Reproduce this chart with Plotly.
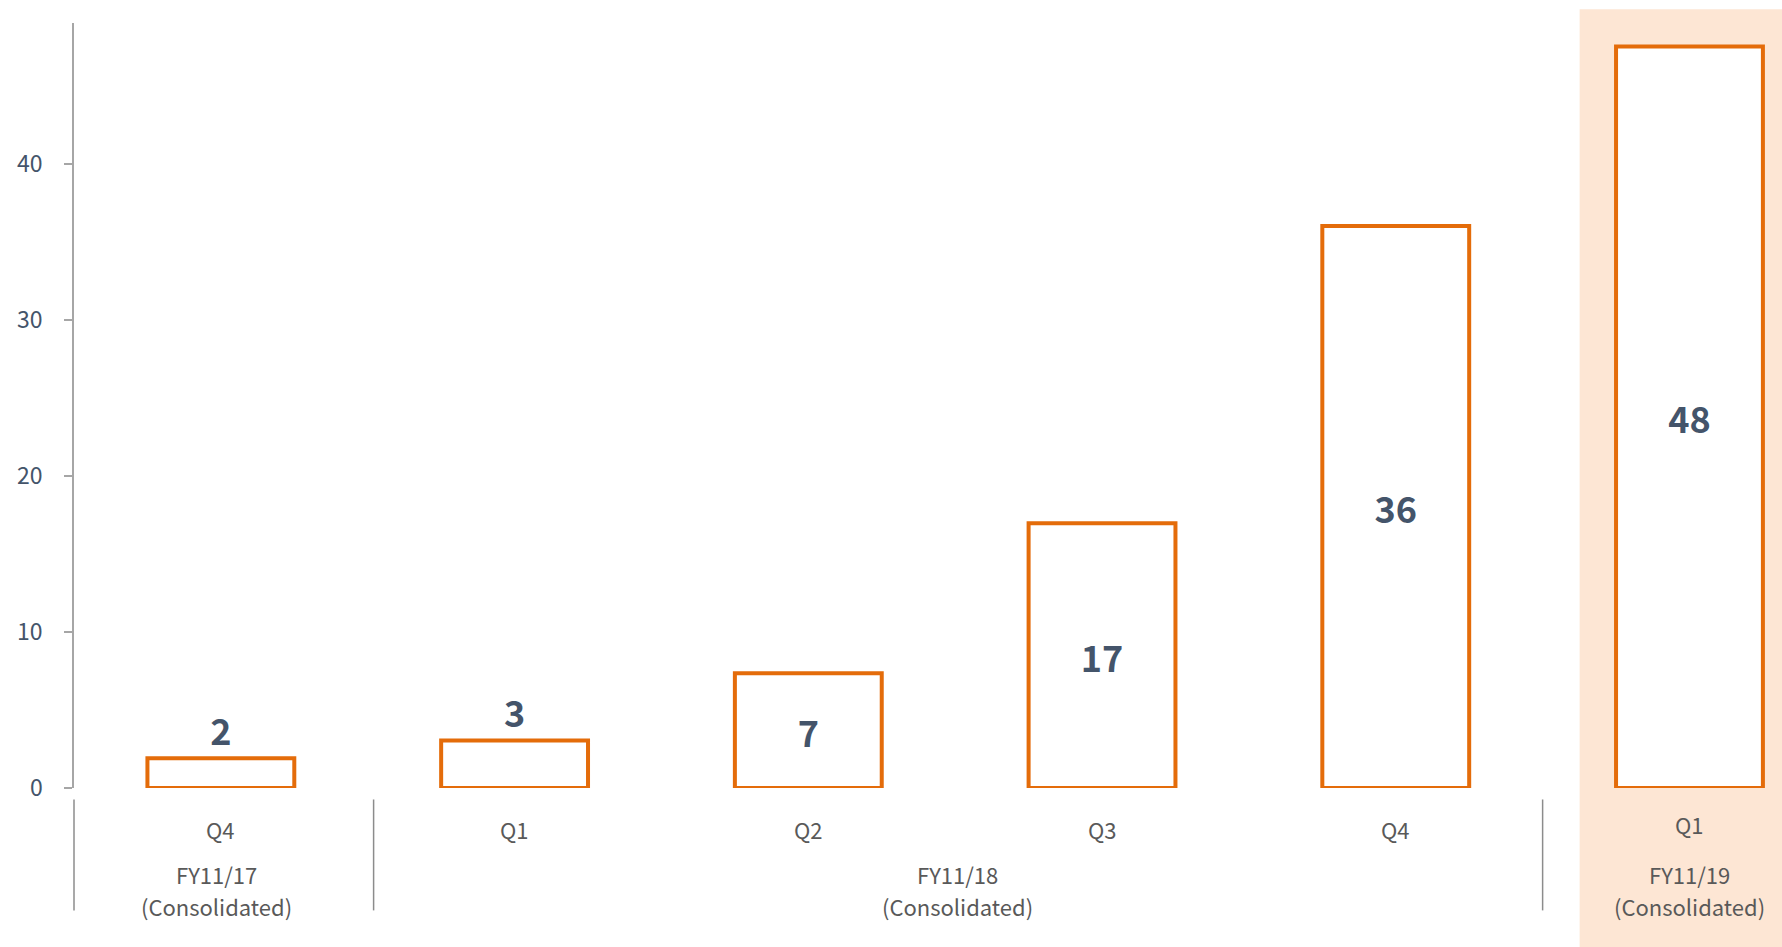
import plotly.graph_objects as go

# ---- data ----
quarters = ["Q4", "Q1", "Q2", "Q3", "Q4", "Q1"]
values = [1.9, 3.05, 7.35, 16.95, 36.0, 47.5]
value_labels = ["2", "3", "7", "17", "36", "48"]
label_positions = ["outside", "outside", "inside", "inside", "inside", "inside"]
fiscal_years = ["FY11/17", "FY11/18", "FY11/19"]
fiscal_year_notes = ["(Consolidated)", "(Consolidated)", "(Consolidated)"]
fiscal_year_centers = [-0.015, 2.507, 5]
dividers = [-0.5, 0.52, 4.5]
y_ticks = [0, 10, 20, 30, 40]

W, H = 1782, 947
ML, MR, MT, MB = 74, 0, 23, 159
XR = [-0.5, 5.315]
YR = [0, 49]

ORANGE = "#E46C0A"
SHADE = "#FDE6D4"
FONT = "Noto Sans CJK JP"

x_idx = list(range(len(quarters)))

def xpaper(v):
    return (v - XR[0]) / (XR[1] - XR[0])

fig = go.Figure()
fig.add_trace(go.Bar(
    x=x_idx, y=values, width=0.5,
    marker=dict(color="white", line=dict(color=ORANGE, width=4)),
    text=value_labels, textposition=label_positions,
    insidetextanchor="middle",
    textfont=dict(family=FONT, size=36, color="#44546A", weight="bold"),
    cliponaxis=False,
    hoverinfo="skip",
))

shapes = [
    dict(type="rect", xref="paper", yref="paper",
         x0=xpaper(5 - 0.374), x1=1.02, y0=-0.25, y1=1.018,
         fillcolor=SHADE, line=dict(width=0), layer="below"),
]
for d in dividers:
    shapes.append(dict(type="line", xref="paper", yref="paper",
                       x0=xpaper(d), x1=xpaper(d), y0=-0.015, y1=-0.16,
                       line=dict(color="#8C8C8C", width=1.5)))

cat_font = dict(family=FONT, size=22, color="#595959")
annotations = []
for i, q in enumerate(quarters):
    annotations.append(dict(
        x=xpaper(i), y=0, xref="paper", yref="paper",
        text=q, showarrow=False, yanchor="middle", xanchor="center",
        yshift=-36 if i == len(quarters) - 1 else -41,
        font=cat_font))
for c, fy, note in zip(fiscal_year_centers, fiscal_years, fiscal_year_notes):
    annotations.append(dict(
        x=xpaper(c), y=0, xref="paper", yref="paper",
        text=fy, showarrow=False, yanchor="middle", xanchor="center",
        yshift=-86, font=cat_font))
    annotations.append(dict(
        x=xpaper(c), y=0, xref="paper", yref="paper",
        text=note, showarrow=False, yanchor="middle", xanchor="center",
        yshift=-118, font=cat_font))

fig.update_layout(
    width=W, height=H,
    margin=dict(l=ML, r=MR, t=MT, b=MB, pad=0),
    paper_bgcolor="white", plot_bgcolor="rgba(0,0,0,0)",
    showlegend=False,
    shapes=shapes, annotations=annotations,
    xaxis=dict(range=XR, showticklabels=False, showgrid=False, zeroline=False,
               showline=False, ticks=""),
    yaxis=dict(range=YR, tickvals=y_ticks, showgrid=False, zeroline=False,
               showline=True, linecolor="#A6A6A6", linewidth=1.5,
               ticks="outside", ticklen=8, tickcolor="#A6A6A6", tickwidth=1.5,
               ticklabelstandoff=17,
               tickfont=dict(family=FONT, size=23, color="#44546A")),
)

fig.write_html("out.html")
